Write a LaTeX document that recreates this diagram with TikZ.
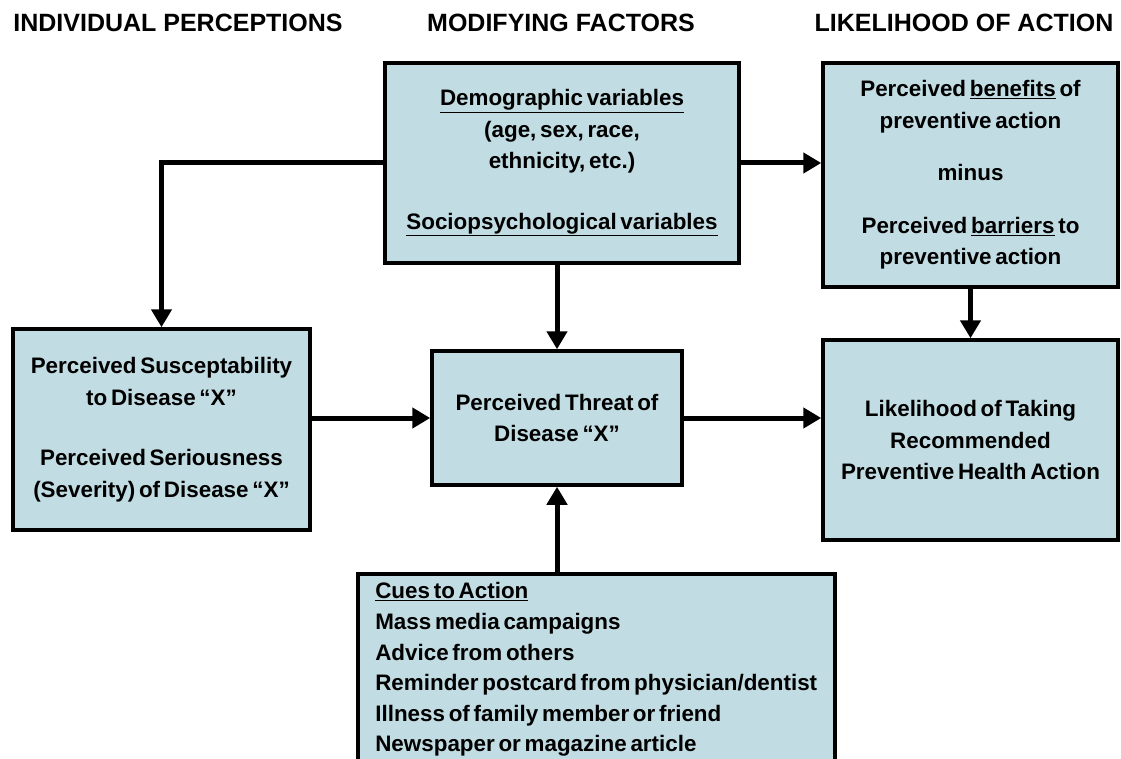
\documentclass[tikz,border=0pt]{standalone}
\usepackage{fontspec}
\setmainfont{Liberation Sans}
\newfontfamily\boxfont{Liberation Sans}[WordSpace=0.6]
\usepackage{xcolor}
\usetikzlibrary{arrows.meta}

\definecolor{boxblue}{RGB}{193,220,226}

\begin{document}
\begin{tikzpicture}[x=1pt, y=-1pt,
    box/.style={draw=black, line width=3.5pt, fill=boxblue, inner sep=0pt, align=center,
        font=\boxfont\bfseries\fontsize{22.4}{31.5}\selectfont},
    head/.style={font=\bfseries\fontsize{25}{28}\selectfont, anchor=base},
    arr/.style={line width=5pt, -{Triangle[length=18pt,width=20pt]}}]
    \clip (0,0) rectangle (1121,759);

    % Column headings
    \node[head] (hindiv) at (178,32) {INDIVIDUAL PERCEPTIONS};
    \node[head] (hmodif) at (561,32) {MODIFYING FACTORS};
    \node[head] (hlikel) at (964,32) {LIKELIHOOD OF ACTION};

    % Modifying factors
    \node[box, minimum width=354pt, minimum height=200pt] (demo) at (562,163)
        {\underline{Demographic variables}\\(age, sex, race,\\ethnicity, etc.)\\[29pt]\underline{Sociopsychological variables}};
    \node[box, minimum width=250pt, minimum height=134pt] (threat) at (557,418)
        {Perceived Threat of\\Disease “X”};
    \node[box, anchor=north west, align=left, minimum width=477pt, inner ysep=9pt,
        font=\boxfont\bfseries\fontsize{22.4}{30.6}\selectfont] (cues) at (356,572)
        {\underline{Cues to Action}\\Mass media campaigns\\Advice from others\\Reminder postcard from physician/dentist\\Illness of family member or friend\\Newspaper or magazine article};

    % Individual perceptions
    \node[box, minimum width=297pt, minimum height=201pt] (susc) at (161.5,429.5)
        {Perceived Susceptability\\to Disease “X”\\[29pt]Perceived Seriousness\\(Severity) of Disease “X”};

    % Likelihood of action
    \node[box, minimum width=295pt, minimum height=224pt] (benefit) at (970.5,175)
        {Perceived \underline{benefits} of\\preventive action\\[21pt]minus\\[21pt]Perceived \underline{barriers} to\\preventive action};
    \node[box, minimum width=295pt, minimum height=200pt] (likely) at (970.5,440)
        {Likelihood of Taking\\Recommended\\Preventive Health Action};

    % Arrows
    \draw[arr] (demo.west) -| (susc.north);
    \draw[arr] (demo.east) -- (demo.east -| benefit.west);
    \draw[arr] (demo.south -| threat.north) -- (threat.north);
    \draw[arr] (susc.east |- threat.west) -- (threat.west);
    \draw[arr] (threat.east) -- (threat.east -| likely.west);
    \draw[arr] (benefit.south) -- (likely.north);
    \draw[arr] (cues.north -| threat.south) -- (threat.south);
\end{tikzpicture}
\end{document}
